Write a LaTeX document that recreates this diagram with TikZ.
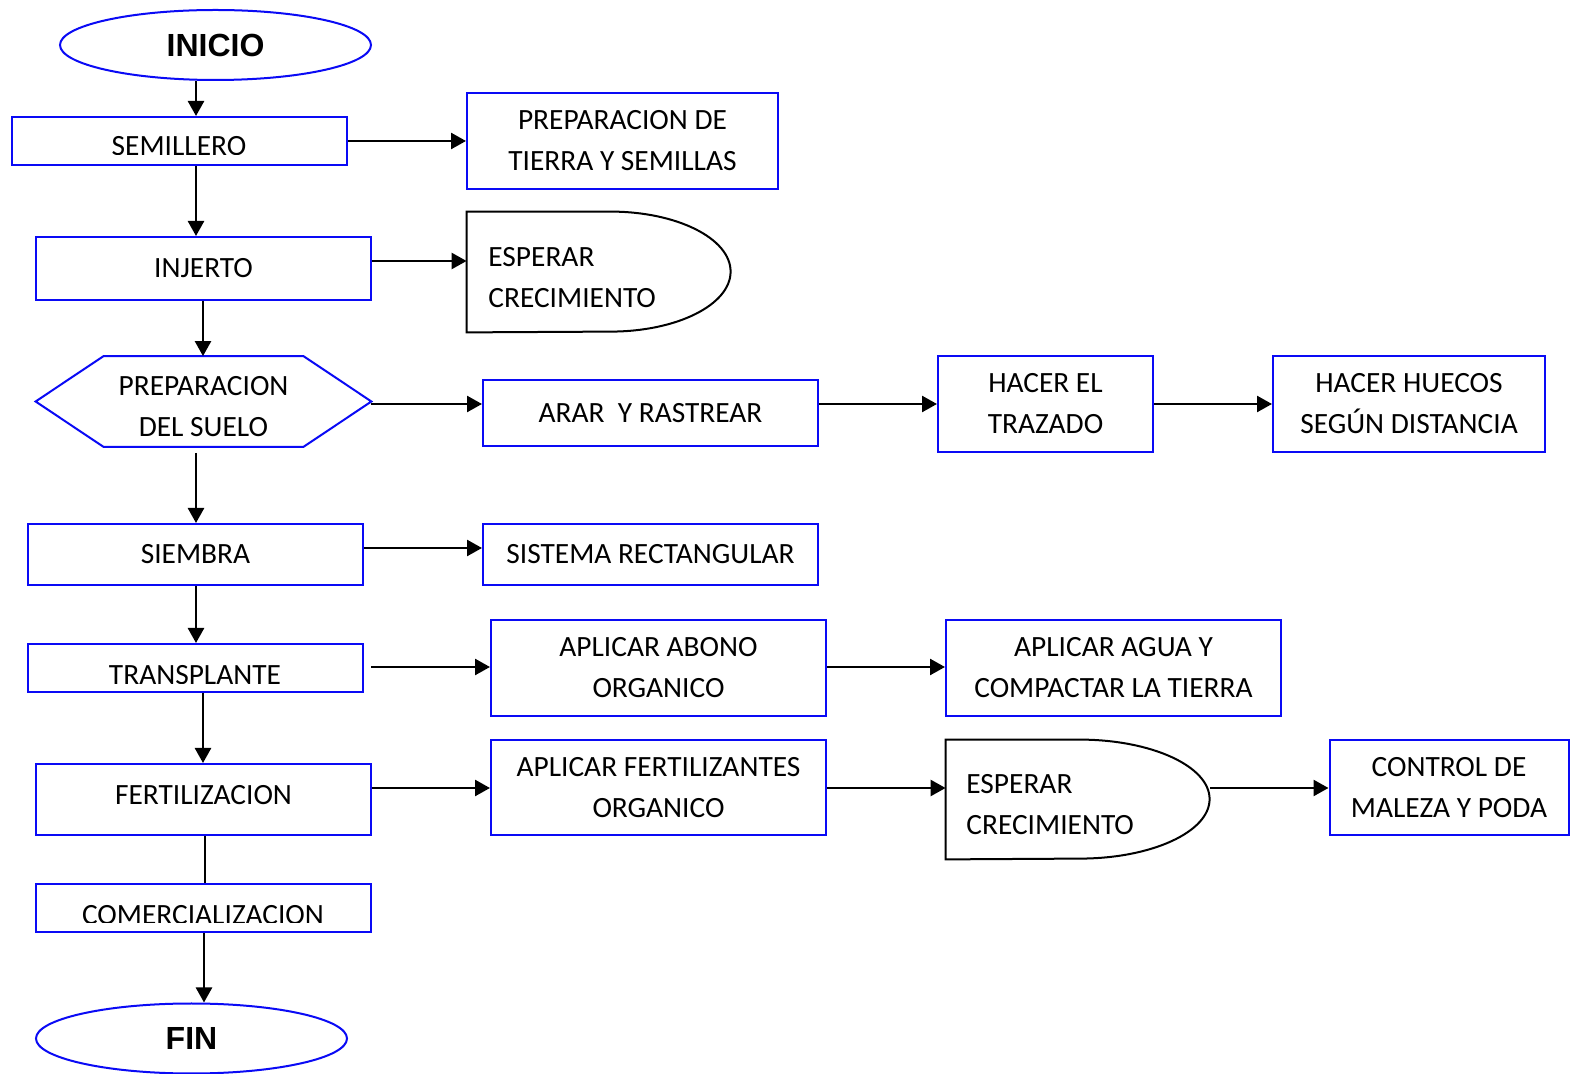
\documentclass[tikz,border=0pt]{standalone}
\usepackage{fontspec}
\setmainfont{Carlito}
\newfontfamily\headfont{Liberation Sans}
\usetikzlibrary{shapes.geometric,arrows.meta}
\definecolor{boxblue}{RGB}{10,10,245}
\tikzset{
  boxsize/.style 2 args={minimum width=#1*0.5pt, minimum height=#2*0.5pt},
  plain/.style={font=\fontsize{14.7}{20.5}\selectfont, inner sep=0pt, align=center},
  bluebox/.style={plain, rectangle, draw=boxblue, line width=1pt},
  holder/.style={plain, rectangle},
  terminal/.style={ellipse, draw=boxblue, line width=1pt, inner sep=0pt,
    minimum width=155.5pt, minimum height=35pt,
    font=\headfont\bfseries\fontsize{16}{20}\selectfont},
  outline/.style={draw=boxblue, line width=1pt},
  delayline/.style={draw=black, line width=1pt},
  arr/.style={draw=black, line width=1.25pt, -{Triangle[length=7.5pt,width=8pt]}},
  link/.style={draw=black, line width=1.25pt},
}
\begin{document}
\begin{tikzpicture}[x=0.5pt,y=-0.5pt]
\useasboundingbox (0,0) rectangle (1571,1074);
\fill[white] (0,0) rectangle (1571,1074);

% ---- main column ----
\node[terminal] (ini) at (215.5,45) {INICIO};
\node[bluebox, boxsize={335}{48}] (sem) at (179.5,141) {};
\node[bluebox, boxsize={335}{63}] (inj) at (203.5,268.5) {INJERTO};
\node[holder, boxsize={335}{90}] (prep) at (203.5,401.5) {};
\draw[outline] (prep.west) -- ([xshift=34pt]prep.north west) -- ([xshift=-34pt]prep.north east)
  -- (prep.east) -- ([xshift=-34pt]prep.south east) -- ([xshift=34pt]prep.south west) -- cycle;
\node[plain] (preptxt) at (203.5,407) {PREPARACION\\DEL SUELO};
\node[bluebox, boxsize={335}{61}] (sie) at (195.5,554.5) {SIEMBRA};
\node[bluebox, boxsize={335}{48}] (tra) at (195.5,668) {};
\node[bluebox, boxsize={335}{71}, text depth=5pt] (fer) at (203.5,799.5) {FERTILIZACION};
\node[bluebox, boxsize={335}{48}] (com) at (203.5,908) {};
\node[terminal] (fin) at (191.5,1038.5) {FIN};

% labels sitting low in their boxes, cut off by the lower edge
\begin{scope}
  \clip (sem.north west) rectangle ([yshift=5.5pt]sem.south east);
  \node[plain, anchor=base] (semtxt) at (179,155.5) {SEMILLERO};
\end{scope}
\begin{scope}
  \clip (tra.north west) rectangle ([yshift=4.5pt]tra.south east);
  \node[plain, anchor=base] (tratxt) at (195,684.5) {TRANSPLANTE};
\end{scope}
\begin{scope}
  \clip (com.north west) rectangle ([yshift=5pt]com.south east);
  \node[plain, anchor=base] (comtxt) at (203,924.5) {COMERCIALIZACION};
\end{scope}

% ---- side steps ----
\node[bluebox, boxsize={311}{96}] (tie) at (622.5,141) {PREPARACION DE\\TIERRA Y SEMILLAS};

\node[holder, boxsize={264}{120}] (esp1) at (599,272) {};
\draw[delayline] (esp1.north west) -- ++(72pt,0)
  arc[start angle=90, end angle=-90, x radius=60pt, y radius=30pt] -- (esp1.south west) -- cycle;
\node[plain, align=left, anchor=west] (esp1txt) at (488,278) {ESPERAR\\CRECIMIENTO};

\node[bluebox, boxsize={335}{66}] (ara) at (650.5,413) {ARAR\ \ Y RASTREAR};
\node[bluebox, boxsize={215}{96}] (traz) at (1045.5,404) {HACER EL\\TRAZADO};
\node[bluebox, boxsize={272}{96}] (hue) at (1409,404) {HACER HUECOS\\SEGÚN DISTANCIA};

\node[bluebox, boxsize={335}{61}] (sis) at (650.5,554.5) {SISTEMA RECTANGULAR};

\node[bluebox, boxsize={335}{96}] (abo) at (658.5,668) {APLICAR ABONO\\ORGANICO};
\node[bluebox, boxsize={335}{96}] (agu) at (1113.5,668) {APLICAR AGUA Y\\COMPACTAR LA TIERRA};

\node[bluebox, boxsize={335}{95}] (fez) at (658.5,787.5) {APLICAR FERTILIZANTES\\ORGANICO};
\node[holder, boxsize={264}{119}] (esp2) at (1078,799.5) {};
\draw[delayline] (esp2.north west) -- ++(67pt,0)
  arc[start angle=90, end angle=-90, x radius=65pt, y radius=29.75pt] -- (esp2.south west) -- cycle;
\node[plain, align=left, anchor=west] (esp2txt) at (966,804.5) {ESPERAR\\CRECIMIENTO};
\node[bluebox, boxsize={239}{95}] (ctl) at (1449,787.5) {CONTROL DE\\MALEZA Y PODA};

% ---- vertical flow ----
\draw[arr] (ini.south -| 196,0) -- (sem.north -| 196,0);
\draw[arr] (sem.south -| 196,0) -- (inj.north -| 196,0);
\draw[arr] (inj.south -| 203,0) -- (prep.north -| 203,0);
\draw[arr] (prep.south -| 196,0) ++(0,6) -- (sie.north -| 196,0);
\draw[arr] (sie.south -| 196,0) -- (tra.north -| 196,0);
\draw[arr] (tra.south -| 203,0) -- (fer.north -| 203,0);
\draw[link] (fer.south -| 205,0) -- (com.north -| 205,0);
\draw[arr] (com.south -| 204,0) -- (fin.north -| 204,0);

% ---- horizontal branches ----
\draw[arr] (sem.east) -- (tie.west);
\draw[arr] (inj.east |- 0,261) -- (esp1.west |- 0,261);
\draw[arr] (prep.east |- 0,404) -- (ara.west |- 0,404);
\draw[arr] (ara.east |- 0,404) -- (traz.west |- 0,404);
\draw[arr] (traz.east) -- (hue.west);
\draw[arr] (sie.east |- 0,548) -- (sis.west |- 0,548);
\draw[arr] (tra.east |- 0,667) ++(7,0) -- (abo.west |- 0,667);
\draw[arr] (abo.east |- 0,667) -- (agu.west |- 0,667);
\draw[arr] (fer.east |- 0,788) -- (fez.west |- 0,788);
\draw[arr] (fez.east |- 0,788) -- (esp2.west |- 0,788);
\draw[arr] (esp2.east |- 0,788) -- (ctl.west |- 0,788);
\end{tikzpicture}
\end{document}
